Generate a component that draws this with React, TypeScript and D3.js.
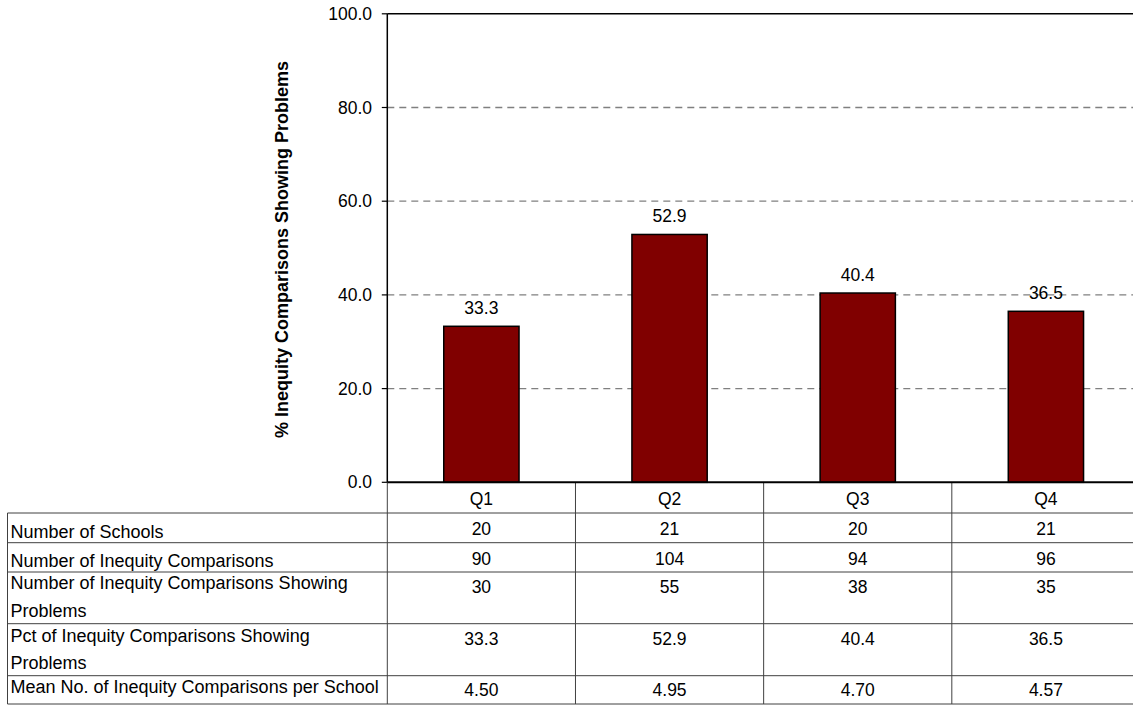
import React from "react";
import * as d3 from "d3";

const categories = ["Q1", "Q2", "Q3", "Q4"];
const pctValues = [33.3, 52.9, 40.4, 36.5];
const schools = [20, 21, 20, 21];
const comparisons = [90, 104, 94, 96];
const problemComparisons = [30, 55, 38, 35];
const meanPerSchool = [4.5, 4.95, 4.7, 4.57];
const yTicks = [0, 20, 40, 60, 80, 100];
const yTitle = "% Inequity Comparisons Showing Problems";
const rowLabels = [
  ["Number of Schools"],
  ["Number of Inequity Comparisons"],
  ["Number of Inequity Comparisons Showing", "Problems"],
  ["Pct of Inequity Comparisons Showing", "Problems"],
  ["Mean No. of Inequity Comparisons per School"],
];

const FONT = "'Liberation Sans', Arial, Helvetica, sans-serif";

export default function App() {
  const W = 1133;
  const H = 705;
  const left = 387.3;
  const right = 1140;
  const top = 13.8;
  const bottom = 482.3;
  const tableLeft = 7.5;

  const y = d3.scaleLinear().domain([0, 100]).range([bottom, top]);
  const x = d3
    .scaleBand<string>()
    .domain(categories)
    .range([left, right])
    .paddingInner(0.6)
    .paddingOuter(0.3);
  const col = d3.scaleBand<string>().domain(categories).range([left, right]);

  const f1 = d3.format(".1f");
  const f2 = d3.format(".2f");

  const rows = [
    { values: schools.map(String), top: 513, bottom: 542.7, vBase: 535, lBase: [537.5] },
    { values: comparisons.map(String), top: 542.7, bottom: 572, vBase: 564.5, lBase: [566.5] },
    { values: problemComparisons.map(String), top: 572, bottom: 623.7, vBase: 593, lBase: [589, 616.5] },
    { values: pctValues.map(f1), top: 623.7, bottom: 675.7, vBase: 645, lBase: [641.5, 669] },
    { values: meanPerSchool.map(f2), top: 675.7, bottom: 704, vBase: 696, lBase: [693] },
  ];

  const lineColor = "#404040";

  return (
    <svg
      width={W}
      height={H}
      style={{ position: "absolute", left: 0, top: 0, background: "#fff" }}
      fontFamily={FONT}
    >
      {/* gridlines */}
      {yTicks
        .filter((t) => t > 0 && t < 100)
        .map((t) => (
          <line
            key={"g" + t}
            x1={left}
            x2={right}
            y1={y(t)}
            y2={y(t)}
            stroke="#808080"
            strokeWidth={1.3}
            strokeDasharray="7 5"
          />
        ))}
      {/* top border */}
      <line x1={left} x2={right} y1={top} y2={top} stroke="#000" strokeWidth={1.5} />

      {/* bars */}
      {categories.map((c, i) => (
        <rect
          key={"b" + c}
          x={x(c)}
          y={y(pctValues[i])}
          width={x.bandwidth()}
          height={y(0) - y(pctValues[i])}
          fill="#800000"
          stroke="#000"
          strokeWidth={1.5}
        />
      ))}
      {/* bar labels */}
      {categories.map((c, i) => (
        <text
          key={"l" + c}
          x={(x(c) as number) + x.bandwidth() / 2}
          y={y(pctValues[i]) - 12.5}
          textAnchor="middle"
          fontSize={17.5}
          fill="#000"
        >
          {f1(pctValues[i])}
        </text>
      ))}

      {/* y ticks */}
      {yTicks.map((t) => (
        <g key={"t" + t}>
          <line x1={left - 5.5} x2={left} y1={y(t)} y2={y(t)} stroke="#000" strokeWidth={1.2} />
          <text x={372} y={y(t) + 6} textAnchor="end" fontSize={17.5} fill="#000">
            {f1(t)}
          </text>
        </g>
      ))}

      {/* y title */}
      <text
        transform={`translate(288, ${(top + bottom) / 2 + 1.5}) rotate(-90)`}
        textAnchor="middle"
        fontSize={18}
        fontWeight="bold"
        fill="#000"
      >
        {yTitle}
      </text>

      {/* table horizontal lines */}
      {rows.map((r, i) => (
        <line
          key={"h" + i}
          x1={tableLeft}
          x2={right}
          y1={r.top}
          y2={r.top}
          stroke={lineColor}
          strokeWidth={1}
        />
      ))}
      <line x1={tableLeft} x2={right} y1={704} y2={704} stroke={lineColor} strokeWidth={1} />
      {/* table left border */}
      <line x1={tableLeft} x2={tableLeft} y1={513} y2={704} stroke={lineColor} strokeWidth={1} />
      {/* column separators */}
      {categories.slice(1).map((c) => (
        <line
          key={"v" + c}
          x1={col(c)}
          x2={col(c)}
          y1={bottom}
          y2={704}
          stroke={lineColor}
          strokeWidth={1}
        />
      ))}
      <line x1={left} x2={left} y1={bottom} y2={704} stroke={lineColor} strokeWidth={1} />

      {/* y axis and x axis */}
      <line x1={left} x2={left} y1={top} y2={bottom} stroke="#000" strokeWidth={1.5} />
      <line x1={left} x2={right} y1={bottom} y2={bottom} stroke="#000" strokeWidth={2} />

      {/* header */}
      {categories.map((c) => (
        <text
          key={"hd" + c}
          x={(col(c) as number) + col.bandwidth() / 2}
          y={505}
          textAnchor="middle"
          fontSize={17.5}
          fill="#000"
        >
          {c}
        </text>
      ))}

      {/* table values and labels */}
      {rows.map((r, i) => (
        <g key={"r" + i}>
          {rowLabels[i].map((ln, j) => (
            <text key={j} x={10.5} y={r.lBase[j]} fontSize={18} fill="#000">
              {ln}
            </text>
          ))}
          {categories.map((c, k) => (
            <text
              key={c}
              x={(col(c) as number) + col.bandwidth() / 2}
              y={r.vBase}
              textAnchor="middle"
              fontSize={17.5}
              fill="#000"
            >
              {r.values[k]}
            </text>
          ))}
        </g>
      ))}
    </svg>
  );
}
